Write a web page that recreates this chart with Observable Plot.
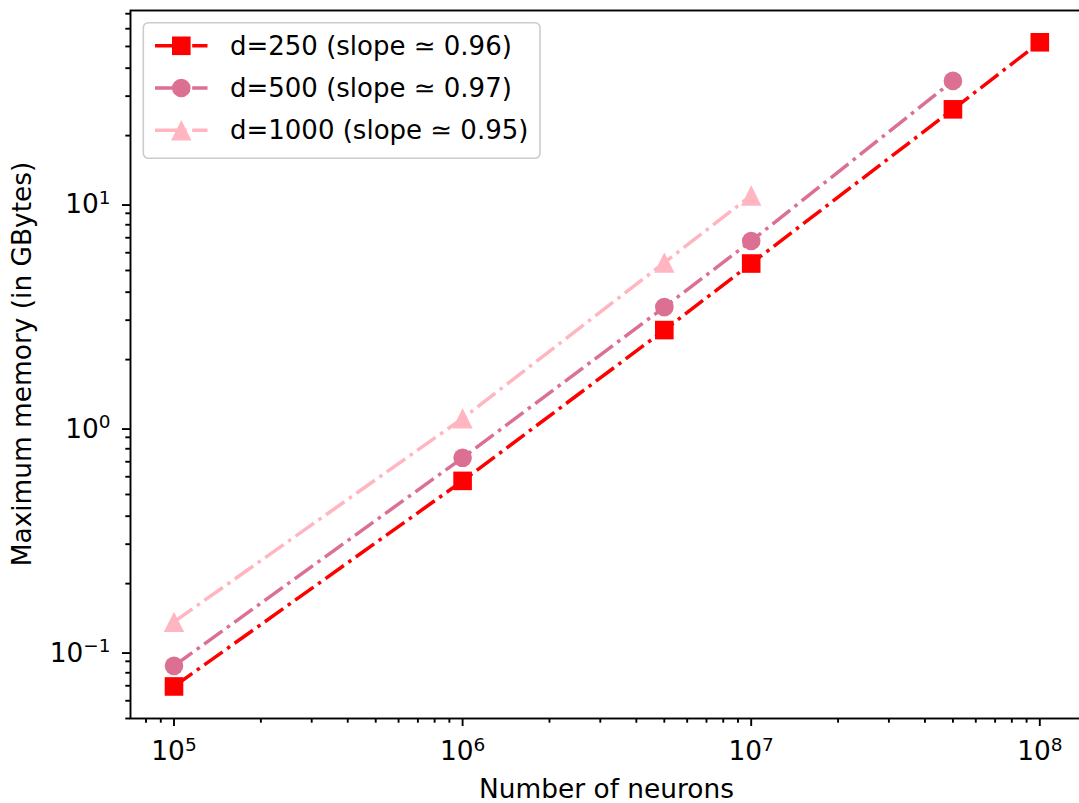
<!DOCTYPE html>
<html><head><meta charset="utf-8">
<script src="https://cdn.jsdelivr.net/npm/d3@7"></script>
<script src="https://cdn.jsdelivr.net/npm/@observablehq/plot@0.6"></script>
<style>html,body{margin:0;padding:0;background:#fff;overflow:hidden}</style>
</head><body><div id="chart"></div>
<script>
// ---- data ----
const seriesNames = ["d=250 (slope ≃ 0.96)", "d=500 (slope ≃ 0.97)", "d=1000 (slope ≃ 0.95)"];
const seriesColors = ["#ff0000", "#db7093", "#ffb6c1"];
const neurons250 = [1e5, 1e6, 5e6, 1e7, 5e7, 1e8];
const memory250 = [0.0695, 0.575, 2.71, 5.37, 26.2, 52.2];
const neurons500 = [1e5, 1e6, 5e6, 1e7, 5e7];
const memory500 = [0.0859, 0.729, 3.43, 6.77, 35.1];
const neurons1000 = [1e5, 1e6, 5e6, 1e7];
const memory1000 = [0.135, 1.093, 5.42, 10.8];
const xTicks = [1e5, 1e6, 1e7, 1e8];
const xTickExponents = ["5", "6", "7", "8"];
const yTicks = [0.1, 1, 10];
const yTickExponents = ["\u22121", "0", "1"];
const xLabel = "Number of neurons";
const yLabel = "Maximum memory (in GBytes)";

// ---- build ----
const FS = 26.4;
const xDomain = [10 ** 4.8493, 10 ** 8.1514];
const yDomain = [0.05, 10 ** 1.8595];
const inDom = (v, dom) => v >= dom[0] * 0.9999 && v <= dom[1] * 1.0001;
const xMinor = d3.range(4, 9).flatMap(k => d3.range(2, 10).map(m => m * 10 ** k)).filter(v => inDom(v, xDomain));
const yMinor = d3.range(-2, 2).flatMap(k => d3.range(2, 10).map(m => m * 10 ** k)).filter(v => inDom(v, yDomain));

const squareSym = {draw(ctx, size) { const r = Math.sqrt(size / Math.PI); ctx.rect(-r, -r, 2 * r, 2 * r); }};
const triSym = {draw(ctx, size) { const r = Math.sqrt(size / Math.PI); ctx.moveTo(0, -r); ctx.lineTo(r, r); ctx.lineTo(-r, r); ctx.closePath(); }};
const symbols = [squareSym, "circle", triSym];
const radii = [9.3, 9.3, 10.2];

const table = [
  ...neurons250.map((n, i) => ({series: seriesNames[0], n, m: memory250[i]})),
  ...neurons500.map((n, i) => ({series: seriesNames[1], n, m: memory500[i]})),
  ...neurons1000.map((n, i) => ({series: seriesNames[2], n, m: memory1000[i]}))
];
const dash = "22.5,5.6,3.5,5.6";

const marks = [];
seriesNames.forEach((s, i) => {
  const rows = table.filter(d => d.series === s);
  marks.push(Plot.line(rows, {x: "n", y: "m", stroke: seriesColors[i], strokeWidth: 3.5, strokeDasharray: dash, strokeLinecap: "butt", strokeLinejoin: "miter"}));
  marks.push(Plot.dot(rows, {x: "n", y: "m", fill: seriesColors[i], stroke: "none", symbol: symbols[i], r: radii[i]}));
});

const fmtX = d => "10|" + xTickExponents[xTicks.indexOf(d)];
const fmtY = d => "10|" + yTickExponents[yTicks.indexOf(d)];

const chart = Plot.plot({
  width: 1079, height: 803,
  marginLeft: 130, marginRight: -4, marginTop: 10, marginBottom: 85,
  style: {fontFamily: "DejaVu Sans", fontSize: FS + "px", background: "white", color: "black"},
  x: {type: "log", domain: xDomain, axis: null},
  y: {type: "log", domain: yDomain, axis: null},
  marks: [
    ...marks,
    Plot.axisX({ticks: xMinor, tickSize: 4.7, tickFormat: () => "", strokeWidth: 1.9, label: null}),
    Plot.axisX({ticks: xTicks, tickSize: 8, tickPadding: 15, tickFormat: fmtX, strokeWidth: 1.9, label: null}),
    Plot.axisY({ticks: yMinor, tickSize: 4.7, tickFormat: () => "", strokeWidth: 1.9, label: null}),
    Plot.axisY({ticks: yTicks, tickSize: 8, tickPadding: 12, dy: 2, tickFormat: fmtY, strokeWidth: 1.9, label: null}),
    Plot.frame({stroke: "black", strokeWidth: 1.9})
  ]
});
document.getElementById("chart").appendChild(chart);

// superscripts for tick labels
d3.select(chart).selectAll("text").each(function() {
  const t = this.textContent;
  if (t.includes("|")) {
    const [base, exp] = t.split("|");
    const sel = d3.select(this);
    sel.text(null);
    sel.append("tspan").text(base);
    sel.append("tspan").attr("dy", "-0.5em").attr("font-size", "0.7em").text(exp);
  }
});

const svg = d3.select(chart);
// axis titles
svg.append("text").attr("x", 606.5).attr("y", 798).attr("text-anchor", "middle").attr("font-size", FS).attr("fill", "black").text(xLabel);
svg.append("text").attr("transform", "translate(31,364) rotate(-90)").attr("text-anchor", "middle").attr("font-size", FS).attr("fill", "black").text(yLabel);

// legend
const lg = svg.append("g");
lg.append("rect").attr("x", 143.3).attr("y", 22.7).attr("width", 396.7).attr("height", 135.6).attr("rx", 5)
  .attr("fill", "white").attr("fill-opacity", 0.8).attr("stroke", "#cccccc").attr("stroke-width", 1.6);
seriesNames.forEach((s, i) => {
  const cy = 45.8 + i * 42.2;
  lg.append("line").attr("x1", 155).attr("x2", 207.5).attr("y1", cy).attr("y2", cy)
    .attr("stroke", seriesColors[i]).attr("stroke-width", 3.5).attr("stroke-dasharray", dash);
  const sym = symbols[i] === "circle" ? d3.symbolCircle : symbols[i];
  lg.append("path").attr("transform", `translate(181.3,${cy})`)
    .attr("d", d3.symbol(sym, radii[i] * radii[i] * Math.PI)()).attr("fill", seriesColors[i]);
  lg.append("text").attr("x", 230).attr("y", cy + 9.2).attr("text-anchor", "start").attr("font-size", 26).attr("fill", "black").text(s);
});
</script>
</body></html>
